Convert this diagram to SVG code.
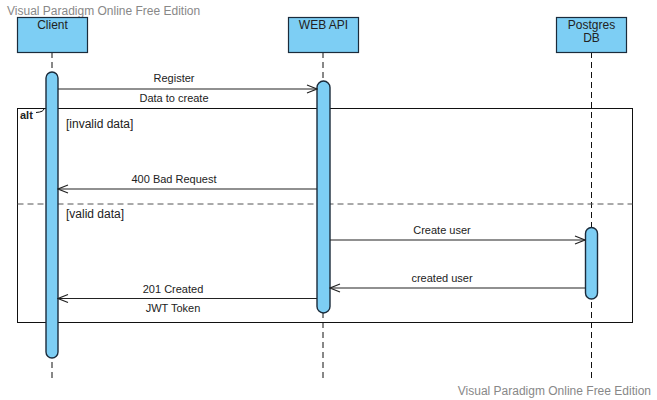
<svg xmlns="http://www.w3.org/2000/svg" width="657" height="400" viewBox="0 0 657 400">
<style>
text{font-family:"Liberation Sans",Arial,sans-serif;fill:#222}
.wm{fill:#888;font-size:12px}
.box{fill:#7dcef4;stroke:#1b2b3b;stroke-width:1.2}
.act{fill:#7dcef4;stroke:#1b2b3b;stroke-width:1.4}
.life{stroke:#111;stroke-width:1;stroke-dasharray:6,4;fill:none}
.msg{stroke:#222;stroke-width:1.2;fill:none}
.lbl{font-size:11px;text-anchor:middle}
.nm{font-size:12px;text-anchor:middle}
</style>
<defs>
<marker id="open" markerWidth="12" markerHeight="12" refX="11" refY="6" orient="auto" markerUnits="userSpaceOnUse">
<path d="M1,2 L11,6 L1,10" fill="none" stroke="#222" stroke-width="1.2"/>
</marker>
</defs>
<rect width="657" height="400" fill="#fff"/>
<text class="wm" x="7" y="15">Visual Paradigm Online Free Edition</text>
<text class="wm" x="651" y="395" text-anchor="end">Visual Paradigm Online Free Edition</text>

<g id="lifelines">
<line class="life" x1="52" y1="52" x2="52" y2="378"/>
<line class="life" x1="323" y1="52" x2="323" y2="378"/>
<line class="life" x1="591.5" y1="52" x2="591.5" y2="378"/>
</g>

<g id="alt-frame">
<rect x="17.5" y="108.5" width="615" height="214" fill="none" stroke="#111" stroke-width="1"/>
<path d="M44,108.5 Q44,112 36,112.5" fill="none" stroke="#111" stroke-width="1"/>
<text x="20" y="119" font-size="11" font-weight="bold">alt</text>
<text x="66" y="128" font-size="12">[invalid data]</text>
<line x1="17.5" y1="204" x2="632.5" y2="204" stroke="#555" stroke-width="1" stroke-dasharray="6,4"/>
<text x="66" y="218" font-size="12">[valid data]</text>
</g>

<g id="client">
<rect class="box" x="17.5" y="17.5" width="70" height="35"/>
<text class="nm" x="52.5" y="28.5">Client</text>
</g>
<g id="webapi">
<rect class="box" x="288.5" y="17.5" width="70" height="35"/>
<text class="nm" x="323.5" y="28.5">WEB API</text>
</g>
<g id="postgres">
<rect class="box" x="556.5" y="17.5" width="70" height="35"/>
<text class="nm" x="591.5" y="28.5">Postgres</text>
<text class="nm" x="591.5" y="41.5">DB</text>
</g>

<g id="activations">
<rect id="act-client" class="act" x="46" y="72" width="12" height="286" rx="6" ry="6"/>
<rect id="act-webapi" class="act" x="317" y="81" width="13" height="232" rx="6.5" ry="6.5"/>
<rect id="act-postgres" class="act" x="585.5" y="227.5" width="12" height="71.5" rx="6" ry="6"/>
</g>

<g id="connectors">
<line class="msg" x1="58" y1="89" x2="317" y2="89" marker-end="url(#open)"/>
<text class="lbl" x="174" y="82">Register</text>
<text class="lbl" x="174" y="102">Data to create</text>

<line class="msg" x1="317" y1="189" x2="58" y2="189" marker-end="url(#open)"/>
<text class="lbl" x="174" y="183">400 Bad Request</text>

<line class="msg" x1="330" y1="240" x2="585" y2="240" marker-end="url(#open)"/>
<text class="lbl" x="442" y="234">Create user</text>

<line class="msg" x1="585" y1="288" x2="330" y2="288" marker-end="url(#open)"/>
<text class="lbl" x="442" y="282">created user</text>

<line class="msg" x1="317" y1="298.5" x2="58" y2="298.5" marker-end="url(#open)"/>
<text class="lbl" x="173" y="293">201 Created</text>
<text class="lbl" x="173" y="312">JWT Token</text>
</g>
</svg>
